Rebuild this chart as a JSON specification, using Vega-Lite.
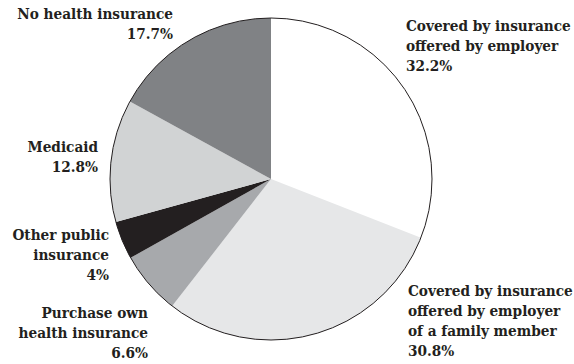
{
  "$schema": "https://vega.github.io/schema/vega-lite/v6.json",
  "width": 542,
  "height": 358,
  "autosize": {"type": "none"},
  "padding": {"left": 0, "top": 0, "right": 32, "bottom": 6},
  "background": "white",
  "config": {"font": "DejaVu Serif Condensed", "view": {"stroke": null}, "text": {"font": "DejaVu Serif Condensed", "fontWeight": "bold", "fontSize": 15.2, "lineHeight": 20, "fill": "#231f20", "baseline": "alphabetic"}},
  "data": {"values": [
    {"cat": "employer", "label": ["Covered by insurance", "offered by employer", "32.2%"], "value": 32.2, "rank": 1},
    {"cat": "family", "label": ["Covered by insurance", "offered by employer", "of a family member", "30.8%"], "value": 30.8, "rank": 2},
    {"cat": "purchase", "label": ["Purchase own", "health insurance", "6.6%"], "value": 6.6, "rank": 3},
    {"cat": "other", "label": ["Other public", "insurance", "4%"], "value": 4, "rank": 4},
    {"cat": "medicaid", "label": ["Medicaid", "12.8%"], "value": 12.8, "rank": 5},
    {"cat": "none", "label": ["No health insurance", "17.7%"], "value": 17.7, "rank": 6}
  ]},
  "layer": [
    {
      "mark": {"type": "arc", "outerRadius": 161},
      "encoding": {
        "theta": {"field": "value", "type": "quantitative", "stack": true},
        "order": {"field": "rank", "type": "quantitative"},
        "color": {"field": "cat", "type": "nominal", "legend": null,
          "scale": {"domain": ["employer", "family", "purchase", "other", "medicaid", "none"],
                    "range": ["#ffffff", "#e6e7e8", "#a7a9ac", "#231f20", "#d1d3d4", "#808285"]}}
      }
    },
    {
      "data": {"values": [{"whole": 1}]},
      "mark": {"type": "arc", "outerRadius": 161, "fill": null, "stroke": "#231f20", "strokeWidth": 1},
      "encoding": {"theta": {"field": "whole", "type": "quantitative", "scale": {"domain": [0, 1]}}}
    },
    {
      "mark": {"type": "text", "font": "DejaVu Serif Condensed", "radius": 180, "align": "left", "dx": -13.7, "dy": -46.5},
      "encoding": {
        "theta": {"field": "value", "type": "quantitative", "stack": true},
        "order": {"field": "rank", "type": "quantitative"},
        "text": {"condition": {"test": "datum.cat === 'employer'", "field": "label"}, "value": ""}
      }
    },
    {
      "mark": {"type": "text", "font": "DejaVu Serif Condensed", "radius": 180, "align": "left", "dx": 89.2, "dy": -56.5},
      "encoding": {
        "theta": {"field": "value", "type": "quantitative", "stack": true},
        "order": {"field": "rank", "type": "quantitative"},
        "text": {"condition": {"test": "datum.cat === 'family'", "field": "label"}, "value": ""}
      }
    },
    {
      "mark": {"type": "text", "font": "DejaVu Serif Condensed", "radius": 180, "align": "right", "dx": 13.4, "dy": 21.6},
      "encoding": {
        "theta": {"field": "value", "type": "quantitative", "stack": true},
        "order": {"field": "rank", "type": "quantitative"},
        "text": {"condition": {"test": "datum.cat === 'purchase'", "field": "label"}, "value": ""}
      }
    },
    {
      "mark": {"type": "text", "font": "DejaVu Serif Condensed", "radius": 180, "align": "right", "dx": 4.4, "dy": -7.6},
      "encoding": {
        "theta": {"field": "value", "type": "quantitative", "stack": true},
        "order": {"field": "rank", "type": "quantitative"},
        "text": {"condition": {"test": "datum.cat === 'other'", "field": "label"}, "value": ""}
      }
    },
    {
      "mark": {"type": "text", "font": "DejaVu Serif Condensed", "radius": 180, "align": "right", "dx": 5.8, "dy": -6.3},
      "encoding": {
        "theta": {"field": "value", "type": "quantitative", "stack": true},
        "order": {"field": "rank", "type": "quantitative"},
        "text": {"condition": {"test": "datum.cat === 'medicaid'", "field": "label"}, "value": ""}
      }
    },
    {
      "mark": {"type": "text", "font": "DejaVu Serif Condensed", "radius": 180, "align": "right", "dx": -6.4, "dy": -5.5},
      "encoding": {
        "theta": {"field": "value", "type": "quantitative", "stack": true},
        "order": {"field": "rank", "type": "quantitative"},
        "text": {"condition": {"test": "datum.cat === 'none'", "field": "label"}, "value": ""}
      }
    }
  ],
  "resolve": {"scale": {"theta": "independent"}}
}
